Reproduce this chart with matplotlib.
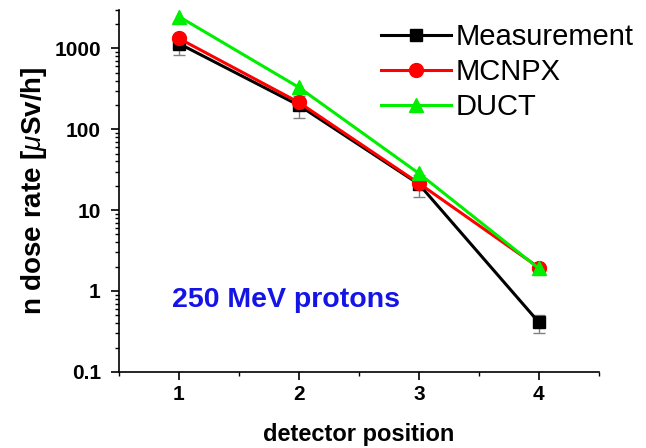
import numpy as np
import matplotlib
matplotlib.use("Agg")
import matplotlib.pyplot as plt
import matplotlib.ticker as mticker

plt.rcParams["font.family"] = ["Liberation Sans", "DejaVu Sans"]
plt.rcParams["mathtext.fontset"] = "custom"
plt.rcParams["mathtext.it"] = "Liberation Sans:italic"

# data
positions = [1, 2, 3, 4]
measurement = [1150, 198, 21, 0.41]
meas_err_lo = [330, 60, 6.5, 0.11]
meas_err_hi = [330, 60, 6.5, 0.10]
mcnpx = [1330, 215, 21.5, 1.95]
duct = [2480, 330, 28.5, 1.9]

ytick_vals = [0.1, 1, 10, 100, 1000]
ytick_labels = ["0.1", "1", "10", "100", "1000"]

fig = plt.figure(figsize=(6.46, 4.48), dpi=100)
ax = fig.add_axes([0.184, 0.170, 0.743, 0.808])

ax.errorbar(positions, measurement, yerr=[meas_err_lo, meas_err_hi], fmt="none",
            ecolor="#808080", elinewidth=1, capsize=4, capthick=1, zorder=2)
ax.plot(positions, measurement, color="black", lw=2.2, marker="s", ms=9,
        label="Measurement", zorder=3)
ax.plot(positions, mcnpx, color="#ff0000", lw=2.2, marker="o", ms=10,
        label="MCNPX", zorder=4)
ax.plot(positions, duct, color="#00ee00", lw=2.2, marker="^", ms=10,
        label="DUCT", zorder=5)

ax.set_yscale("log")
ax.set_ylim(0.1, 3000)
ax.set_xlim(0.5, 4.5)
ax.set_yticks(ytick_vals)
ax.set_yticklabels(ytick_labels)
ax.yaxis.set_minor_locator(mticker.LogLocator(base=10, subs=np.arange(2, 10)))
ax.yaxis.set_minor_formatter(mticker.NullFormatter())
ax.set_xticks(positions)
ax.xaxis.set_minor_locator(mticker.MultipleLocator(0.5))

ax.spines[["top", "right"]].set_visible(False)
for s in ["left", "bottom"]:
    ax.spines[s].set_linewidth(1.2)
ax.tick_params(which="major", direction="out", length=6, width=1.2,
               labelsize=15)
ax.tick_params(axis="y", which="major", pad=7)
ax.tick_params(which="minor", direction="out", length=3, width=1)
for lbl in ax.get_xticklabels() + ax.get_yticklabels():
    lbl.set_fontweight("bold")

ax.set_xlabel("detector position", fontsize=17, fontweight="bold", labelpad=14)
ax.set_ylabel(r"n dose rate [$\mu$Sv/h]", fontsize=20, fontweight="bold", labelpad=4)

ax.text(0.11, 0.18, "250 MeV protons", transform=ax.transAxes, fontsize=20.5,
        fontweight="bold", color="#1414e6", va="baseline")

ax.legend(loc="upper right", bbox_to_anchor=(1.108, 1.012), frameon=False,
          fontsize=21, handlelength=2.4, handletextpad=0.15, labelspacing=0.24,
          borderaxespad=0.2)

fig.savefig("out.png", dpi=100, facecolor="white")
